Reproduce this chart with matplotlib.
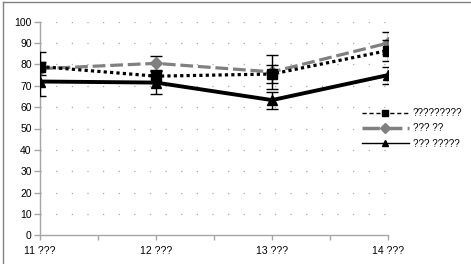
import matplotlib
matplotlib.use("Agg")
import matplotlib.pyplot as plt
from matplotlib.lines import Line2D
import numpy as np

plt.rcParams['font.family'] = ['Liberation Sans', 'DejaVu Sans']

categories = ["11 ???", "12 ???", "13 ???", "14 ???"]
series_names = ["?????????", "??? ??", "??? ?????"]
s1_vals = [79, 74.5, 75.5, 86.5]
s1_err = [7, 3, 4, 5]
s2_vals = [78, 80.5, 76.5, 90]
s2_err = [3, 3.5, 8, 5.3]
s3_vals = [72, 71.5, 63.3, 75]
s3_err = [7, 5.5, 4, 4]
yticks = [0, 10, 20, 30, 40, 50, 60, 70, 80, 90, 100]

W, H = 471, 264
fig = plt.figure(figsize=(W / 100, H / 100), dpi=100)
ax = fig.add_axes([40 / W, (H - 235.3) / H, 348 / W, 213.6 / H])

x = np.arange(len(categories))
gray = "#808080"
axis_gray = "#a6a6a6"

for yv in yticks[1:]:
    ax.axhline(yv, color="#a8a8a8", lw=0.9, linestyle=(0, (1, 11.5)), zorder=0)

ax.errorbar(x, s2_vals, yerr=s2_err, color=gray, lw=2.3, linestyle=(0, (4, 1.5)),
            marker="D", ms=6.5, mfc=gray, mec=gray, ecolor="black", elinewidth=1,
            capsize=4, capthick=1, zorder=3)
ax.errorbar(x, s1_vals, yerr=s1_err, color="black", lw=2.3, linestyle=(0, (1, 1)),
            marker="s", ms=6.5, ecolor="black", elinewidth=1,
            capsize=4, capthick=1, zorder=4)
ax.errorbar(x, s3_vals, yerr=s3_err, color="black", lw=2.8, linestyle="-",
            marker="^", ms=7.5, ecolor="black", elinewidth=1,
            capsize=4, capthick=1, zorder=5)

ax.set_xlim(0, 3)
ax.set_ylim(0, 100)
ax.set_xticks(x)
ax.set_xticklabels(categories)
ax.set_xticks([0.5, 1.5, 2.5], minor=True)
ax.set_yticks(yticks)
ax.tick_params(axis="x", which="both", direction="out", length=3.5, color=axis_gray,
               width=1, labelsize=7.5, pad=4)
ax.tick_params(axis="y", direction="out", length=4, color=axis_gray, width=1,
               labelsize=7.5, pad=2)
for s in ["top", "right"]:
    ax.spines[s].set_visible(False)
for s in ["left", "bottom"]:
    ax.spines[s].set_color(axis_gray)
    ax.spines[s].set_linewidth(1)

handles = [
    Line2D([], [], color="black", lw=1, linestyle=(0, (3, 2)), marker="s", ms=5),
    Line2D([], [], color=gray, lw=2.5, linestyle=(0, (5, 1.5)), marker="D", ms=5, mec=gray),
    Line2D([], [], color="black", lw=1, linestyle="-", marker="^", ms=5),
]
fig.legend(handles, series_names, loc="upper left",
           bbox_to_anchor=(362 / W, (H - 108) / H), frameon=False, fontsize=7,
           handlelength=4.8, handletextpad=0.4, labelspacing=0.55,
           borderpad=0, borderaxespad=0)

fig.add_artist(Line2D([2.5 / W, 1], [1 - 1.5 / H, 1 - 1.5 / H], color=gray, lw=1,
                      transform=fig.transFigure))
fig.add_artist(Line2D([2.5 / W, 2.5 / W], [0, 1 - 1.5 / H], color=gray, lw=1,
                      transform=fig.transFigure))

fig.savefig("out.png", dpi=100)
